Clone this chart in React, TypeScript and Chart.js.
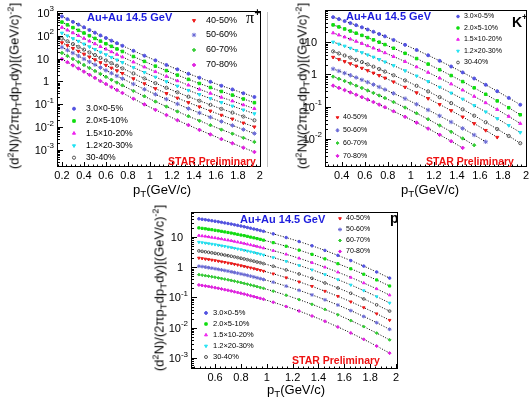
import React, { useEffect, useRef } from 'react';
import { Chart, registerables } from 'chart.js';
import { drawPoint } from 'chart.js/helpers';

Chart.register(...registerables);

const SANS = '"Liberation Sans", Arial, Helvetica, sans-serif';
const SERIF = '"Liberation Serif", "DejaVu Serif", serif';
Chart.defaults.font.family = SANS;

// ---------------- data ----------------
const centLabels = ['3.0×0-5%', '2.0×5-10%', '1.5×10-20%', '1.2×20-30%', '30-40%', '40-50%', '50-60%', '60-70%', '70-80%'];

// pi+
const piX = [0.2, 0.25, 0.3, 0.35, 0.4, 0.45, 0.5, 0.55, 0.6, 0.65, 0.7, 0.75, 0.85, 0.95, 1.05, 1.15, 1.25, 1.35, 1.45, 1.55, 1.65, 1.75, 1.85, 1.95];
const pi0_5 = [708, 537, 408, 310, 236, 179, 137, 104, 80, 61.5, 47.4, 36.6, 22.1, 13.5, 8.4, 5.3, 3.39, 2.2, 1.46, 0.97, 0.65, 0.45, 0.305, 0.21];
const pi5_10 = [398, 302, 229, 174, 133, 101, 77, 58.5, 45, 34.6, 26.6, 20.6, 12.4, 7.6, 4.7, 3.0, 1.9, 1.24, 0.82, 0.545, 0.365, 0.253, 0.171, 0.118];
const pi10_20 = [234, 178, 134, 102, 77.4, 58.5, 44.7, 33.8, 26.0, 20.0, 15.3, 11.8, 7.1, 4.32, 2.68, 1.68, 1.07, 0.693, 0.458, 0.303, 0.203, 0.140, 0.0945, 0.0648];
const pi20_30 = [132, 100, 75.9, 57.7, 43.9, 33.3, 25.5, 19.3, 14.9, 11.4, 8.8, 6.8, 4.1, 2.51, 1.56, 0.99, 0.63, 0.41, 0.27, 0.18, 0.121, 0.084, 0.057, 0.039];
const pi30_40 = [75.8, 57.3, 43.3, 32.8, 24.9, 18.8, 14.4, 10.8, 8.3, 6.36, 4.88, 3.76, 2.25, 1.36, 0.845, 0.529, 0.336, 0.216, 0.143, 0.0947, 0.0631, 0.0434, 0.0292, 0.020];
const pi40_50 = [50.1, 37.5, 28.2, 21.1, 15.9, 11.9, 9.0, 6.75, 5.13, 3.89, 2.97, 2.26, 1.33, 0.80, 0.487, 0.30, 0.188, 0.12, 0.078, 0.051, 0.0335, 0.0228, 0.0152, 0.0103];
const pi50_60 = [31.6, 23.5, 17.5, 13.1, 9.7, 7.26, 5.45, 4.06, 3.07, 2.31, 1.75, 1.33, 0.773, 0.456, 0.274, 0.168, 0.104, 0.065, 0.042, 0.0272, 0.0177, 0.0119, 0.0079, 0.0053];
const pi60_70 = [17.8, 13.1, 9.65, 7.14, 5.27, 3.89, 2.90, 2.14, 1.60, 1.19, 0.896, 0.674, 0.386, 0.224, 0.132, 0.0797, 0.0486, 0.0301, 0.0191, 0.0122, 0.0078, 0.0052, 0.0034, 0.00225];
const pi70_80 = [9.56, 6.95, 5.06, 3.70, 2.70, 1.96, 1.44, 1.04, 0.774, 0.571, 0.423, 0.314, 0.176, 0.099, 0.0573, 0.0339, 0.0202, 0.0123, 0.0076, 0.0048, 0.0030, 0.00197, 0.00126, 0.00082];
const piXTicks = [0.2, 0.4, 0.6, 0.8, 1, 1.2, 1.4, 1.6, 1.8, 2];
const piXTickLabels = ['0.2', '0.4', '0.6', '0.8', '1', '1.2', '1.4', '1.6', '1.8', '2'];
const piYTicks = [1e-3, 1e-2, 1e-1, 1, 10, 100, 1000];
const piYTickLabels = ['10^{-3}', '10^{-2}', '10^{-1}', '1', '10', '10^{2}', '10^{3}'];

// K+
const kX = [0.325, 0.375, 0.425, 0.475, 0.525, 0.575, 0.625, 0.675, 0.725, 0.775, 0.85, 0.95, 1.05, 1.15, 1.25, 1.35, 1.45, 1.55, 1.65, 1.75, 1.85, 1.95];
const k0_5 = [58.9, 51.3, 44.5, 38.5, 33.2, 28.5, 24.4, 20.8, 17.7, 15.0, 11.6, 8.18, 5.68, 3.89, 2.62, 1.75, 1.15, 0.745, 0.476, 0.301, 0.187, 0.115];
const k5_10 = [33.9, 29.4, 25.4, 21.9, 18.8, 16.1, 13.7, 11.7, 9.89, 8.34, 6.43, 4.48, 3.08, 2.08, 1.39, 0.919, 0.597, 0.383, 0.242, 0.151, 0.0927, 0.0562];
const k10_20 = [19.1, 16.5, 14.3, 12.3, 10.5, 9.0, 7.67, 6.51, 5.51, 4.64, 3.56, 2.48, 1.70, 1.15, 0.766, 0.504, 0.327, 0.208, 0.132, 0.0817, 0.05, 0.0302];
const k20_30 = [10.0, 8.66, 7.51, 6.46, 5.51, 4.72, 4.03, 3.42, 2.89, 2.44, 1.87, 1.30, 0.893, 0.604, 0.402, 0.265, 0.172, 0.109, 0.0693, 0.0429, 0.0263, 0.0159];
const k30_40 = [5.13, 4.44, 3.83, 3.29, 2.81, 2.40, 2.04, 1.73, 1.46, 1.22, 0.938, 0.649, 0.443, 0.297, 0.197, 0.129, 0.0828, 0.0526, 0.033, 0.0203, 0.0124, 0.0074];
const k40_50 = [3.39, 2.92, 2.50, 2.14, 1.82, 1.55, 1.31, 1.10, 0.925, 0.773, 0.586, 0.401, 0.27, 0.179, 0.117, 0.0757, 0.0481, 0.0301, 0.0185, 0.0113];
const k50_60 = [1.48, 1.27, 1.09, 0.936, 0.798, 0.676, 0.573, 0.482, 0.406, 0.339, 0.258, 0.177, 0.119, 0.0791, 0.0519, 0.0335, 0.0213, 0.0133, 0.0082];
const k60_70 = [0.851, 0.729, 0.622, 0.53, 0.448, 0.378, 0.318, 0.266, 0.222, 0.185, 0.139, 0.0938, 0.0622, 0.0407, 0.0263, 0.0167, 0.0104, 0.00643];
const k70_80 = [0.447, 0.382, 0.326, 0.277, 0.234, 0.197, 0.166, 0.139, 0.116, 0.0959, 0.072, 0.0485, 0.0321, 0.021, 0.0135, 0.00853, 0.00532];
const kXTicks = [0.4, 0.6, 0.8, 1, 1.2, 1.4, 1.6, 1.8, 2];
const kXTickLabels = ['0.4', '0.6', '0.8', '1', '1.2', '1.4', '1.6', '1.8', '2'];
const kYTicks = [1e-2, 1e-1, 1, 10];
const kYTickLabels = ['10^{-2}', '10^{-1}', '1', '10'];

// p
const pX = [0.475, 0.5, 0.525, 0.55, 0.575, 0.6, 0.625, 0.65, 0.675, 0.7, 0.725, 0.75, 0.775, 0.8, 0.825, 0.85, 0.875, 0.9, 0.925, 0.95, 0.975, 1.05, 1.15, 1.25, 1.35, 1.45, 1.55, 1.65, 1.75, 1.85, 1.95];
const p0_5 = [39.8, 38.5, 37.2, 35.9, 34.5, 33.2, 31.9, 30.5, 29.2, 27.9, 26.7, 25.4, 24.2, 23.0, 21.8, 20.6, 19.5, 18.4, 17.4, 16.4, 15.4, 12.7, 9.59, 7.08, 5.11, 3.60, 2.47, 1.66, 1.09, 0.698, 0.437];
const p5_10 = [19.95, 19.3, 18.7, 18.0, 17.4, 16.7, 16.0, 15.4, 14.7, 14.1, 13.5, 12.8, 12.2, 11.6, 11.1, 10.5, 9.92, 9.38, 8.86, 8.35, 7.86, 6.50, 4.95, 3.68, 2.67, 1.89, 1.31, 0.889, 0.588, 0.38, 0.24];
const p10_20 = [11.2, 10.8, 10.5, 10.1, 9.72, 9.35, 8.97, 8.60, 8.23, 7.86, 7.50, 7.14, 6.79, 6.45, 6.12, 5.79, 5.48, 5.17, 4.88, 4.59, 4.31, 3.55, 2.68, 1.98, 1.42, 1.0, 0.688, 0.461, 0.302, 0.193, 0.12];
const p20_30 = [6.76, 6.53, 6.30, 6.07, 5.84, 5.61, 5.38, 5.15, 4.92, 4.70, 4.48, 4.26, 4.05, 3.85, 3.64, 3.44, 3.25, 3.07, 2.89, 2.72, 2.55, 2.09, 1.57, 1.15, 0.823, 0.574, 0.391, 0.26, 0.169, 0.107, 0.066];
const p30_40 = [3.47, 3.35, 3.23, 3.12, 3.0, 2.88, 2.77, 2.65, 2.53, 2.42, 2.31, 2.20, 2.09, 1.98, 1.88, 1.78, 1.68, 1.59, 1.49, 1.41, 1.32, 1.08, 0.817, 0.601, 0.431, 0.302, 0.207, 0.138, 0.0898, 0.0571, 0.0355];
const p40_50 = [2.02, 1.95, 1.88, 1.81, 1.74, 1.67, 1.60, 1.53, 1.46, 1.39, 1.33, 1.26, 1.20, 1.13, 1.07, 1.01, 0.956, 0.9, 0.846, 0.795, 0.745, 0.608, 0.453, 0.33, 0.234, 0.162, 0.11, 0.0722, 0.0464, 0.0291, 0.0178];
const p50_60 = [1.08, 1.05, 1.01, 0.97, 0.931, 0.893, 0.855, 0.817, 0.78, 0.744, 0.707, 0.672, 0.637, 0.603, 0.571, 0.539, 0.508, 0.478, 0.449, 0.421, 0.394, 0.321, 0.238, 0.173, 0.122, 0.084, 0.0564, 0.0369, 0.0236, 0.0147, 0.0089];
const p60_70 = [0.569, 0.548, 0.527, 0.507, 0.486, 0.466, 0.445, 0.425, 0.405, 0.385, 0.366, 0.347, 0.329, 0.311, 0.293, 0.276, 0.26, 0.244, 0.229, 0.214, 0.2, 0.162, 0.119, 0.0852, 0.0595, 0.0405, 0.0268, 0.0173, 0.0109, 0.00667, 0.00398];
const p70_80 = [0.26, 0.25, 0.24, 0.231, 0.221, 0.211, 0.201, 0.192, 0.182, 0.173, 0.164, 0.155, 0.146, 0.138, 0.13, 0.122, 0.114, 0.107, 0.1, 0.0935, 0.0871, 0.0697, 0.0505, 0.0357, 0.0245, 0.0164, 0.0106, 0.00673, 0.00414, 0.00248, 0.00145];
const pXTicks = [0.6, 0.8, 1, 1.2, 1.4, 1.6, 1.8, 2];
const pXTickLabels = ['0.6', '0.8', '1', '1.2', '1.4', '1.6', '1.8', '2'];
const pYTicks = [1e-3, 1e-2, 1e-1, 1, 10];
const pYTickLabels = ['10^{-3}', '10^{-2}', '10^{-1}', '1', '10'];

// ---------------- styles ----------------
const markerStyles = [
  { color: '#5252e0', style: 'circle', rotation: 0, fill: true, r: 1.5 },
  { color: '#10dd10', style: 'rect', rotation: 0, fill: true, r: 1.8 },
  { color: '#ee22ee', style: 'triangle', rotation: 0, fill: true, r: 1.8 },
  { color: '#22e2f2', style: 'triangle', rotation: 180, fill: true, r: 1.8 },
  { color: '#555555', style: 'circle', rotation: 0, fill: false, r: 1.6 },
  { color: '#ee1a1a', style: 'triangle', rotation: 180, fill: true, r: 1.8 },
  { color: '#6a6ad6', style: 'star', rotation: 0, fill: false, r: 2.2 },
  { color: '#33cc33', style: 'rectRot', rotation: 0, fill: true, r: 1.7 },
  { color: '#e020e0', style: 'rectRot', rotation: 0, fill: true, r: 1.8 },
];

type Legend = { items: number[]; mx: number; tx: number; rows: number[]; size: number; mr: number };
type PanelCfg = {
  key: string; left: number; top: number; w: number; h: number;
  area: { l: number; t: number; r: number; b: number };
  xMin: number; xMax: number; yMin: number; yMax: number;
  xs: number[]; series: number[][]; mScale: number;
  xTicks: number[]; xTickLabels: string[]; yTicks: number[]; yTickLabels: string[];
  title: { x: number; y: number; w: number };
  star: { x: number; y: number; w: number };
  particle: { x: number; y: number; kind: string };
  legends: Legend[];
  xTitle: { x: number; y: number }; yTitle: { x: number; y: number };
};

const panels: PanelCfg[] = [
  {
    key: 'pi', left: 0, top: 0, w: 266, h: 200,
    area: { l: 57, t: 11, r: 263, b: 167 },
    xMin: 0.155, xMax: 2.01, yMin: 1.8e-4, yMax: 1.22e3,
    xs: piX, series: [pi0_5, pi5_10, pi10_20, pi20_30, pi30_40, pi40_50, pi50_60, pi60_70, pi70_80], mScale: 1,
    xTicks: piXTicks, xTickLabels: piXTickLabels, yTicks: piYTicks, yTickLabels: piYTickLabels,
    title: { x: 87, y: 21, w: 86 },
    star: { x: 168, y: 164.5, w: 90 },
    particle: { x: 246, y: 22.5, kind: 'pi' },
    legends: [
      { items: [5, 6, 7, 8], mx: 194, tx: 206, rows: [20.5, 35, 50, 65], size: 9, mr: 1.6 },
      { items: [0, 1, 2, 3, 4], mx: 74, tx: 86, rows: [108.7, 121, 133.3, 145.7, 157.7], size: 8.6, mr: 1.6 },
    ],
    xTitle: { x: 162, y: 190 }, yTitle: { x: 15, y: 86 },
  },
  {
    key: 'k', left: 266, top: 0, w: 266, h: 200,
    area: { l: 325, t: 10, r: 530, b: 167 },
    xMin: 0.2546, xMax: 2.0086, yMin: 1.36e-3, yMax: 98,
    xs: kX, series: [k0_5, k5_10, k10_20, k20_30, k30_40, k40_50, k50_60, k60_70, k70_80], mScale: 1,
    xTicks: kXTicks, xTickLabels: kXTickLabels, yTicks: kYTicks, yTickLabels: kYTickLabels,
    title: { x: 346, y: 20, w: 85 },
    star: { x: 426, y: 165, w: 93 },
    particle: { x: 512, y: 26.5, kind: 'K' },
    legends: [
      { items: [0, 1, 2, 3, 4], mx: 458, tx: 464, rows: [16.5, 28, 39.5, 51, 62.5], size: 7, mr: 1.4 },
      { items: [5, 6, 7, 8], mx: 337.5, tx: 343, rows: [117.5, 130.3, 143.1, 155.9], size: 7, mr: 1.4 },
    ],
    xTitle: { x: 430, y: 190 }, yTitle: { x: 303, y: 86 },
  },
  {
    key: 'p', left: 130, top: 200, w: 280, h: 201,
    area: { l: 191, t: 212, r: 398, b: 369 },
    xMin: 0.414, xMax: 2.015, yMin: 4.33e-4, yMax: 67,
    xs: pX, series: [p0_5, p5_10, p10_20, p20_30, p30_40, p40_50, p50_60, p60_70, p70_80], mScale: 0.85,
    xTicks: pXTicks, xTickLabels: pXTickLabels, yTicks: pYTicks, yTickLabels: pYTickLabels,
    title: { x: 240, y: 222.5, w: 87 },
    star: { x: 292, y: 364, w: 95 },
    particle: { x: 390, y: 222.5, kind: 'p' },
    legends: [
      { items: [5, 6, 7, 8], mx: 340, tx: 346, rows: [218.5, 229.5, 240.5, 251.5], size: 7, mr: 1.4 },
      { items: [0, 1, 2, 3, 4], mx: 206, tx: 213, rows: [313, 324, 335, 346, 357], size: 7.5, mr: 1.5 },
    ],
    xTitle: { x: 296, y: 390 }, yTitle: { x: 160, y: 288 },
  },
];

function decorPlugin(p: PanelCfg) {
  return {
    id: 'decor_' + p.key,
    afterDraw(chart: any) {
      const ctx = chart.ctx as CanvasRenderingContext2D;
      const a = chart.chartArea;
      const xs = chart.scales.x;
      const ys = chart.scales.y;
      ctx.save();
      ctx.strokeStyle = '#000';
      ctx.lineWidth = 1;
      ctx.strokeRect(Math.round(a.left) + 0.5, Math.round(a.top) + 0.5, Math.round(a.right - a.left) - 1, Math.round(a.bottom - a.top) - 1);
      // y ticks (inside)
      ctx.beginPath();
      const lo = Math.floor(Math.log10(p.yMin));
      const hi = Math.ceil(Math.log10(p.yMax));
      for (let d = lo; d <= hi; d++) {
        for (let m = 1; m <= 9; m++) {
          const v = m * Math.pow(10, d);
          if (v < p.yMin || v > p.yMax) continue;
          const py = Math.round(ys.getPixelForValue(v)) + 0.5;
          const len = m === 1 ? 6 : 3;
          ctx.moveTo(a.left, py);
          ctx.lineTo(a.left + len, py);
        }
      }
      // x ticks (inside)
      const step = 0.04;
      for (let k = Math.ceil(p.xMin / step - 1e-9); k * step <= p.xMax + 1e-9; k++) {
        const v = k * step;
        const major = Math.abs(v / 0.2 - Math.round(v / 0.2)) < 1e-6;
        const px = Math.round(xs.getPixelForValue(v)) + 0.5;
        ctx.moveTo(px, a.bottom);
        ctx.lineTo(px, a.bottom - (major ? 5 : 2.5));
      }
      ctx.stroke();
      // y tick labels
      ctx.fillStyle = '#000';
      ctx.textBaseline = 'alphabetic';
      p.yTicks.forEach((v, i) => {
        const lab = p.yTickLabels[i];
        const py = ys.getPixelForValue(v);
        const m = lab.match(/^10\^\{(.+)\}$/);
        if (m) {
          ctx.font = `8px ${SANS}`;
          const ew = ctx.measureText(m[1]).width;
          const right = a.left - 3;
          ctx.textAlign = 'left';
          ctx.fillText(m[1], right - ew, py - 1.5);
          ctx.font = `11px ${SANS}`;
          ctx.textAlign = 'right';
          ctx.fillText('10', right - ew, py + 4);
        } else {
          ctx.font = `11px ${SANS}`;
          ctx.textAlign = 'right';
          ctx.fillText(lab, a.left - 8, py + 4);
        }
      });
      // legends
      p.legends.forEach((L) => {
        L.items.forEach((si, j) => {
          const st = markerStyles[si];
          const y = L.rows[j] - p.top;
          ctx.fillStyle = st.fill ? st.color : 'rgba(0,0,0,0)';
          ctx.strokeStyle = st.color;
          ctx.lineWidth = 1;
          drawPoint(ctx, { pointStyle: st.style, rotation: st.rotation, radius: L.mr * (st.r / 1.6), borderWidth: 1 } as any, L.mx - p.left, y);
          ctx.fillStyle = '#000';
          ctx.font = `${L.size}px ${SANS}`;
          ctx.textAlign = 'left';
          ctx.textBaseline = 'middle';
          ctx.fillText(centLabels[si], L.tx - p.left, y);
        });
      });
      // texts
      ctx.textBaseline = 'alphabetic';
      ctx.textAlign = 'left';
      ctx.fillStyle = '#1e1edd';
      ctx.font = `bold 11px ${SANS}`;
      ctx.fillText('Au+Au 14.5 GeV', p.title.x - p.left, p.title.y - p.top, p.title.w);
      ctx.fillStyle = '#ee1111';
      ctx.font = `bold 10.5px ${SANS}`;
      ctx.fillText('STAR Preliminary', p.star.x - p.left, p.star.y - p.top, p.star.w);
      ctx.fillStyle = '#000';
      const px0 = p.particle.x - p.left;
      const py0 = p.particle.y - p.top;
      if (p.particle.kind === 'pi') {
        ctx.font = `16px ${SERIF}`;
        ctx.fillText('π', px0, py0);
        const w = ctx.measureText('π').width;
        ctx.font = `bold 10px ${SANS}`;
        ctx.fillText('+', px0 + w + 0.5, py0 - 6.5);
      } else if (p.particle.kind === 'K') {
        ctx.font = `bold 14px ${SANS}`;
        ctx.fillText('K', px0, py0);
        const w = ctx.measureText('K').width;
        ctx.font = `bold 9px ${SANS}`;
        ctx.fillText('+', px0 + w, py0 - 7);
      } else {
        ctx.font = `bold 14px ${SANS}`;
        ctx.fillText('p', px0, py0);
      }
      ctx.restore();
    },
  };
}

function buildConfig(p: PanelCfg): any {
  const markerSets = p.series.map((ys, si) => {
    const st = markerStyles[si];
    return {
      label: centLabels[si],
      data: ys.map((y, i) => ({ x: p.xs[i], y })),
      showLine: false,
      pointStyle: st.style,
      rotation: st.rotation,
      pointRadius: st.r * p.mScale,
      pointBackgroundColor: st.fill ? st.color : 'rgba(0,0,0,0)',
      pointBorderColor: st.color,
      pointBorderWidth: 1,
      order: 0,
    };
  });
  const fitSets = p.series.map((ys, si) => ({
    label: 'fit ' + centLabels[si],
    data: ys.map((y, i) => ({ x: p.xs[i], y })),
    showLine: true,
    borderColor: '#000',
    borderWidth: 1,
    borderDash: [1, 1.6],
    pointRadius: 0,
    tension: 0.2,
    fill: false,
    order: 1,
  }));
  const area = { l: p.area.l - p.left, t: p.area.t - p.top, r: p.area.r - p.left, b: p.area.b - p.top };
  return {
    type: 'scatter',
    data: { datasets: [...markerSets, ...fitSets] },
    options: {
      animation: false,
      responsive: false,
      maintainAspectRatio: false,
      events: [],
      layout: { padding: { top: area.t, right: p.w - area.r, left: 0, bottom: 0 } },
      plugins: { legend: { display: false }, tooltip: { enabled: false }, title: { display: false } },
      scales: {
        x: {
          type: 'linear',
          min: p.xMin,
          max: p.xMax,
          grid: { display: false, drawTicks: false },
          border: { display: false },
          afterBuildTicks: (s: any) => { s.ticks = p.xTicks.map((v) => ({ value: v })); },
          ticks: {
            callback: (_v: any, i: number) => p.xTickLabels[i],
            font: { family: SANS, size: 11 },
            color: '#000',
            padding: 2,
            maxRotation: 0,
            autoSkip: false,
          },
          afterFit: (s: any) => { s.height = p.h - area.b; },
        },
        y: {
          type: 'logarithmic',
          min: p.yMin,
          max: p.yMax,
          grid: { display: false, drawTicks: false },
          border: { display: false },
          ticks: { display: false },
          afterFit: (s: any) => { s.width = area.l; },
        },
      },
    },
    plugins: [decorPlugin(p)],
  };
}

function Panel({ p }: { p: PanelCfg }) {
  const ref = useRef<HTMLCanvasElement>(null);
  useEffect(() => {
    const chart = new Chart(ref.current as HTMLCanvasElement, buildConfig(p));
    return () => chart.destroy();
  }, []);
  return (
    <canvas ref={ref} width={p.w} height={p.h}
      style={{ position: 'absolute', left: p.left, top: p.top, width: p.w, height: p.h }} />
  );
}

const sup = (t: string) => <span style={{ fontSize: '0.7em', position: 'relative', top: '-0.5em' }}>{t}</span>;
const sub = (t: string) => <span style={{ fontSize: '0.75em', position: 'relative', top: '0.3em' }}>{t}</span>;

function XTitle({ x, y }: { x: number; y: number }) {
  return (
    <div style={{ position: 'absolute', left: x, top: y, transform: 'translate(-50%,-50%)', whiteSpace: 'nowrap', fontFamily: SANS, fontSize: 13, lineHeight: '15px', color: '#000' }}>
      p{sub('T')}(GeV/c)
    </div>
  );
}

function YTitle({ x, y }: { x: number; y: number }) {
  return (
    <div style={{ position: 'absolute', left: x, top: y, transform: 'translate(-50%,-50%) rotate(-90deg)', whiteSpace: 'nowrap', fontFamily: SANS, fontSize: 13, lineHeight: '15px', color: '#000' }}>
      (d{sup('2')}N)/(2πp{sub('T')}dp{sub('T')}dy)[(GeV/c){sup('-2')}]
    </div>
  );
}

export default function App() {
  return (
    <div style={{ position: 'fixed', left: 0, top: 0, width: 532, height: 401, background: '#fff', overflow: 'hidden' }}>
      <div style={{ position: 'absolute', left: 267, top: 12, width: 1, height: 155, background: '#c4c4c4' }} />
      {panels.map((p) => <Panel key={p.key} p={p} />)}
      {panels.map((p) => <XTitle key={'xt' + p.key} x={p.xTitle.x} y={p.xTitle.y} />)}
      {panels.map((p) => <YTitle key={'yt' + p.key} x={p.yTitle.x} y={p.yTitle.y} />)}
    </div>
  );
}
